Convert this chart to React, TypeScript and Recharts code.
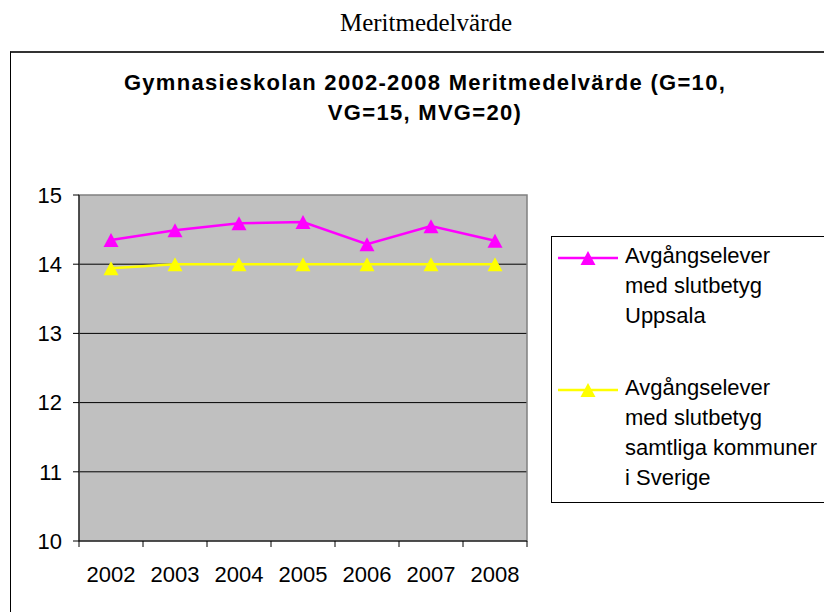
import {
  CartesianGrid,
  Legend,
  Line,
  LineChart,
  ReferenceArea,
  XAxis,
  YAxis,
} from "recharts";

const years = ["2002", "2003", "2004", "2005", "2006", "2007", "2008"];
const uppsala = [14.35, 14.49, 14.59, 14.61, 14.29, 14.55, 14.34];
const sverige = [13.94, 14.0, 14.0, 14.0, 14.0, 14.0, 14.0];
const yTicks = [10, 11, 12, 13, 14, 15];
const gridValues = [11, 12, 13, 14];

const pageTitle = "Meritmedelvärde";
const chartTitle = "Gymnasieskolan 2002-2008 Meritmedelvärde (G=10,\nVG=15, MVG=20)";
const seriesNames = [
  "Avgångselever\nmed slutbetyg\nUppsala",
  "Avgångselever\nmed slutbetyg\nsamtliga kommuner\ni Sverige",
];
const seriesColors = ["#ff00ff", "#ffff00"];

const data = years.map((year, i) => ({
  year,
  uppsala: uppsala[i],
  sverige: sverige[i],
}));

const FONT = "'Liberation Sans', Arial, sans-serif";
const TICK_SIZE = 6;
const TICK_MARGIN = 2;

function triangle(cx: number, cy: number, color: string, key?: string | number) {
  return (
    <path
      key={key}
      d={`M${cx},${cy - 7} L${cx + 7.5},${cy + 7} L${cx - 7.5},${cy + 7} Z`}
      fill={color}
      stroke="none"
    />
  );
}

function makeDot(color: string) {
  return (props: any) => triangle(props.cx, props.cy, color, props.index);
}

function YearTick(props: any) {
  const { x, y, payload, index } = props;
  const half = payload.offset ?? 0;
  const axisY = y - TICK_SIZE - TICK_MARGIN;
  return (
    <g>
      <line x1={x - half} y1={axisY} x2={x - half} y2={axisY + TICK_SIZE} stroke="#000" />
      {index === years.length - 1 && (
        <line x1={x + half} y1={axisY} x2={x + half} y2={axisY + TICK_SIZE} stroke="#000" />
      )}
      <text x={x} y={y + 33} textAnchor="middle" fill="#000" fontSize={22} fontFamily={FONT}>
        {payload.value}
      </text>
    </g>
  );
}

function LegendBox(props: any) {
  const items = props.payload ?? [];
  return (
    <div
      style={{
        width: 300,
        height: 261,
        border: "1px solid #000",
        background: "#fff",
        boxSizing: "content-box",
        paddingTop: 4,
        paddingLeft: 6,
        fontFamily: FONT,
        fontSize: 22,
        lineHeight: "30px",
        color: "#000",
      }}
    >
      {items.map((item: any, i: number) => (
        <div key={i} style={{ display: "flex", marginTop: i === 0 ? 0 : 42 }}>
          <svg width={60} height={30} style={{ flex: "none", marginRight: 7 }}>
            <line x1={0} y1={17} x2={60} y2={17} stroke={item.color} strokeWidth={2.5} />
            {triangle(30, 17, item.color)}
          </svg>
          <div style={{ whiteSpace: "pre" }}>{item.value}</div>
        </div>
      ))}
    </div>
  );
}

export default function App() {
  return (
    <div
      style={{
        position: "absolute",
        left: 0,
        top: 0,
        width: 824,
        height: 612,
        overflow: "hidden",
        background: "#fff",
      }}
    >
      <div
        style={{
          position: "absolute",
          left: 26,
          width: 800,
          top: 8,
          textAlign: "center",
          fontFamily: "'Liberation Serif', 'Times New Roman', serif",
          fontSize: 25,
          lineHeight: "30px",
        }}
      >
        {pageTitle}
      </div>
      <div
        style={{
          position: "absolute",
          left: 10,
          top: 51,
          width: 900,
          height: 700,
          borderLeft: "1px solid #000",
          borderTop: "2px solid #333",
        }}
      />
      <div
        style={{
          position: "absolute",
          left: 25,
          width: 800,
          top: 68,
          textAlign: "center",
          whiteSpace: "pre-line",
          fontFamily: FONT,
          fontWeight: "bold",
          fontSize: 22,
          lineHeight: "30px",
          letterSpacing: 1.3,
        }}
      >
        {chartTitle}
      </div>
      <div style={{ position: "absolute", left: 0, top: 0 }}>
        <LineChart
          width={824}
          height={612}
          data={data}
          margin={{ top: 195, right: 297, bottom: 0, left: 0 }}
        >
          <CartesianGrid
            vertical={false}
            horizontalValues={gridValues}
            fill="#c0c0c0"
            stroke="#000"
            strokeWidth={1}
          />
          <ReferenceArea y1={10} y2={15} fill="none" stroke="#808080" strokeWidth={1.5} />
          <XAxis
            dataKey="year"
            scale="band"
            height={71}
            interval={0}
            tickLine={false}
            tickSize={TICK_SIZE}
            tickMargin={TICK_MARGIN}
            axisLine={{ stroke: "#000" }}
            tick={<YearTick />}
          />
          <YAxis
            domain={[10, 15]}
            ticks={yTicks}
            width={79}
            tickSize={6}
            tickMargin={11}
            tickLine={{ stroke: "#000" }}
            axisLine={{ stroke: "#000" }}
            tick={{ fill: "#000", fontSize: 22, fontFamily: FONT }}
          />
          <Legend
            layout="vertical"
            align="center"
            verticalAlign="middle"
            content={<LegendBox />}
            wrapperStyle={{ left: 551, top: 236, width: 320, height: 270 }}
          />
          <Line
            dataKey="uppsala"
            name={seriesNames[0]}
            stroke={seriesColors[0]}
            strokeWidth={2.5}
            dot={makeDot(seriesColors[0])}
            activeDot={false}
            isAnimationActive={false}
          />
          <Line
            dataKey="sverige"
            name={seriesNames[1]}
            stroke={seriesColors[1]}
            strokeWidth={2.5}
            dot={makeDot(seriesColors[1])}
            activeDot={false}
            isAnimationActive={false}
          />
        </LineChart>
      </div>
    </div>
  );
}
